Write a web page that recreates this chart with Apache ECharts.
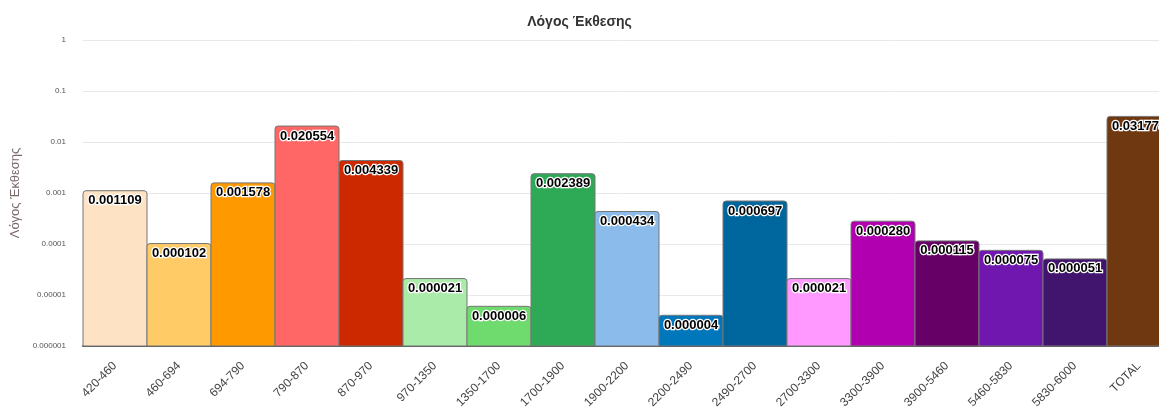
<!DOCTYPE html>
<html><head><meta charset="utf-8">
<script src="https://cdn.jsdelivr.net/npm/echarts@6/dist/echarts.min.js"></script>
<style>html,body{margin:0;padding:0;background:#fff}#c{width:1159px;height:407px}</style>
</head><body><div id="c"></div>
<script>
const categories = ['420-460','460-694','694-790','790-870','870-970','970-1350','1350-1700','1700-1900','1900-2200','2200-2490','2490-2700','2700-3300','3300-3900','3900-5460','5460-5830','5830-6000','TOTAL'];
const values = [0.001109,0.000102,0.001578,0.020554,0.004339,0.000021,0.000006,0.002389,0.000434,0.000004,0.000697,0.000021,0.000280,0.000115,0.000075,0.000051,0.031774];
const labels = ['0.001109','0.000102','0.001578','0.020554','0.004339','0.000021','0.000006','0.002389','0.000434','0.000004','0.000697','0.000021','0.000280','0.000115','0.000075','0.000051','0.031774'];
const colors = ['#FDE3C3','#FFCB66','#FF9900','#FF6666','#CC2900','#AAEBAA','#6FDB6F','#2EAA57','#8ABBEB','#0077BB','#00669E','#FF99FF','#B000B0','#660066','#7017B0','#41146E','#703810'];
const yMin = 0.000001, yMax = 1;
const title = 'Λόγος Έκθεσης';
const yName = 'Λόγος Έκθεσης';

const chart = echarts.init(document.getElementById('c'));
chart.setOption({
  animation:false,
  title:{text:title,left:'center',top:10,textStyle:{fontFamily:'Liberation Sans',fontSize:14,fontWeight:'bold',color:'#333'}},
  grid:{left:83,top:40,bottom:61,width:1088,outerBoundsMode:'none',containLabel:false},
  xAxis:{type:'category',data:categories,
    axisLine:{lineStyle:{color:'#555',width:2}},axisTick:{show:false},
    axisLabel:{rotate:45,interval:0,margin:18,fontFamily:'Liberation Sans',fontSize:12,color:'#444'}},
  yAxis:{type:'log',logBase:10,min:yMin,max:yMax,name:yName,nameLocation:'middle',nameGap:59,
    nameTextStyle:{fontFamily:'Liberation Sans',fontSize:13,color:'#7a6a6a'},
    axisLine:{show:false},axisTick:{show:false},
    splitLine:{lineStyle:{color:'#e8e8e8'}},
    axisLabel:{margin:17,fontFamily:'Liberation Sans',fontSize:8,color:'#555',
      formatter:function(v){const k=Math.round(Math.log10(v));return k>=0?'1':(Math.pow(10,k)).toFixed(-k);}}},
  series:[{type:'custom',
    data:values.map((v,i)=>[i,v]),
    encode:{x:0,y:1},
    renderItem:function(params,api){
      const i=api.value(0), v=api.value(1);
      const top=api.coord([i,v]), base=api.coord([i,yMin]);
      const w=api.size([1,1])[0];
      return {type:'rect',
        shape:{x:top[0]-w/2,y:top[1],width:w,height:base[1]-top[1],r:[3,3,0,0]},
        style:{fill:colors[i],stroke:'#777',lineWidth:1},
        textContent:{style:{text:labels[i],fontFamily:'Liberation Sans',fontSize:13,fontWeight:'bold',fill:'#000',stroke:'#fff',lineWidth:2.5}},
        textConfig:{position:'insideTop',distance:4}
      };
    }
  }]
});
</script></body></html>
